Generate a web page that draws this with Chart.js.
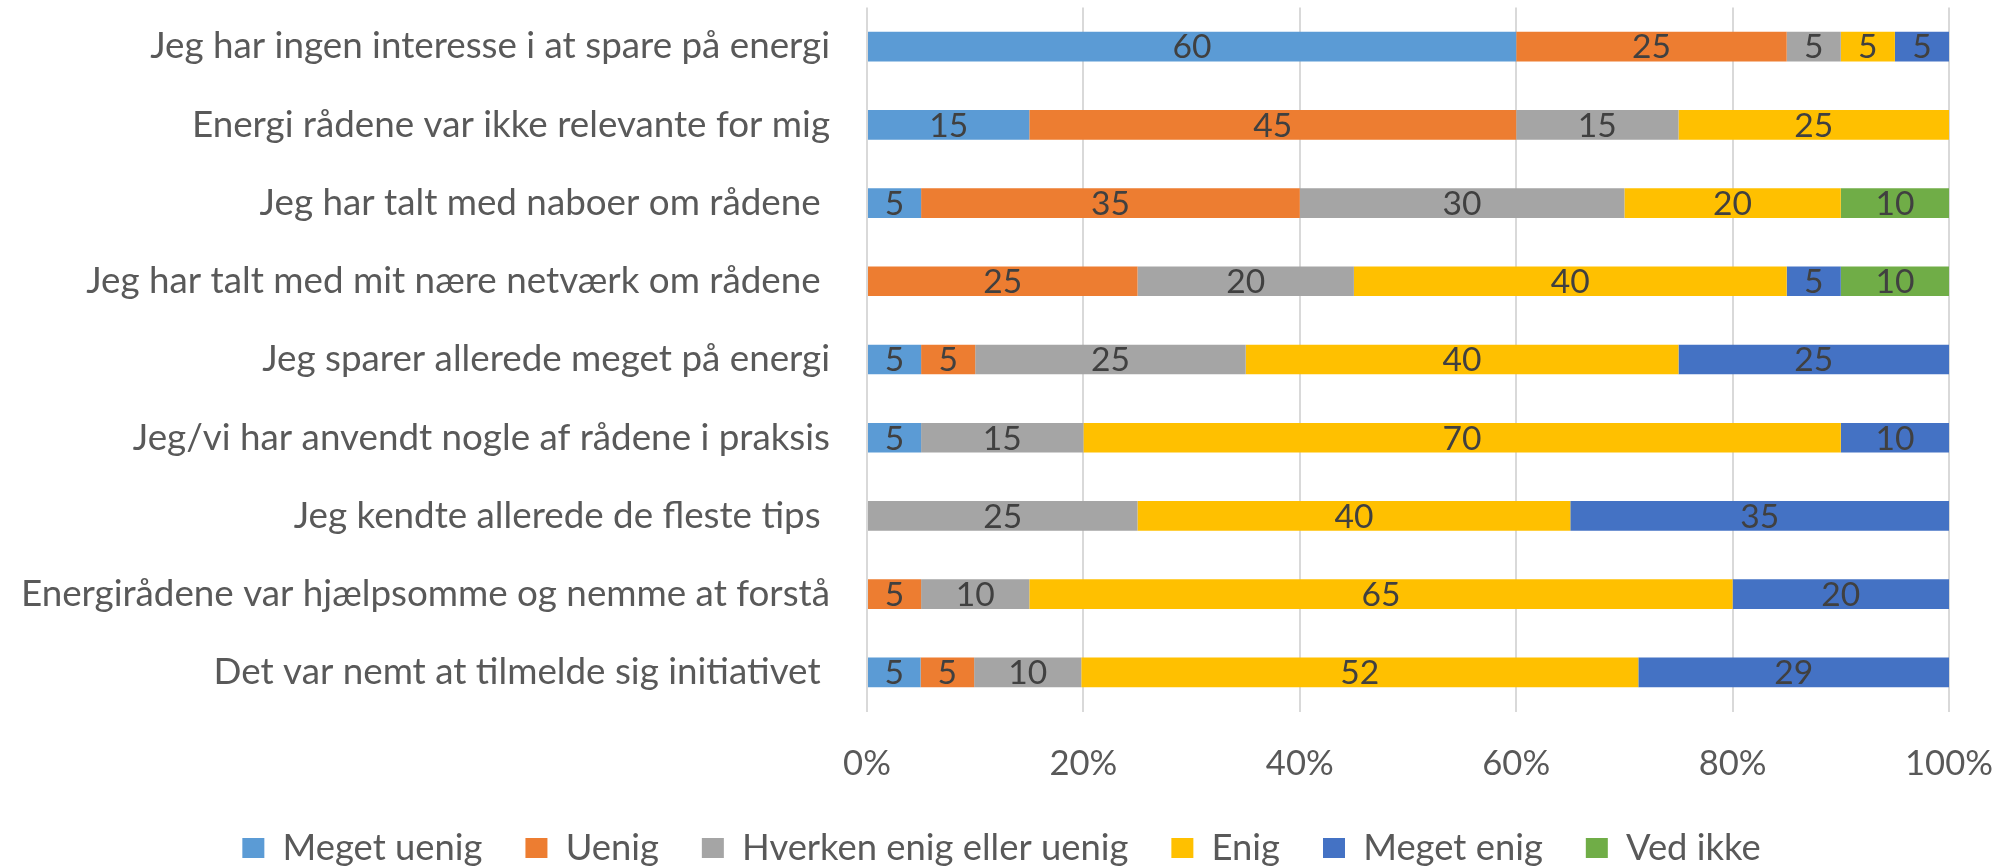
<!DOCTYPE html>
<html><head><meta charset="utf-8">
<script src="https://cdn.jsdelivr.net/npm/chart.js@4.4.1/dist/chart.umd.min.js"></script>
<style>html,body{margin:0;padding:0;background:#fff}#wrap{width:2003px;height:866px;position:relative}</style>
</head><body><div id="wrap"><canvas id="c"></canvas></div>
<script>
const categories = [
  'Jeg har ingen interesse i at spare på energi',
  'Energi rådene var ikke relevante for mig',
  'Jeg har talt med naboer om rådene ',
  'Jeg har talt med mit nære netværk om rådene ',
  'Jeg sparer allerede meget på energi',
  'Jeg/vi har anvendt nogle af rådene i praksis',
  'Jeg kendte allerede de fleste tips ',
  'Energirådene var hjælpsomme og nemme at forstå',
  'Det var nemt at tilmelde sig initiativet '
];
const seriesNames = ['Meget uenig', 'Uenig', 'Hverken enig eller uenig', 'Enig', 'Meget enig', 'Ved ikke'];
const megetUenig = [60, 15, 5, 0, 5, 5, 0, 0, 5];
const uenig      = [25, 45, 35, 25, 5, 0, 0, 5, 5];
const hverken    = [5, 15, 30, 20, 25, 15, 25, 10, 10];
const enig       = [5, 25, 20, 40, 40, 70, 40, 65, 52];
const megetEnig  = [5, 0, 0, 5, 25, 10, 35, 20, 29];
const vedIkke    = [0, 0, 10, 10, 0, 0, 0, 0, 0];
const xTickValues = [0, 20, 40, 60, 80, 100];

const seriesColors = ['#5B9BD5', '#ED7D31', '#A5A5A5', '#FFC000', '#4472C4', '#70AD47'];
const allSeries = [megetUenig, uenig, hverken, enig, megetEnig, vedIkke];
const rowTotals = categories.map((_, i) => allSeries.reduce((s, a) => s + a[i], 0));

const FAMILY = 'Lato, "Noto Sans", sans-serif';
const mctx = document.createElement('canvas').getContext('2d');
function fitSize(text, target) {
  mctx.font = '100px ' + FAMILY;
  return 100 * target / mctx.measureText(text).width;
}
const catF = fitSize(categories[0], 680);
const tickF = fitSize('100%', 88);
const legF = fitSize('Meget uenig', 200);
const valF = fitSize('52', 39);

const PLOT_LEFT = 867, PLOT_RIGHT_GAP = 2003 - 1949, PLOT_TOP = 7.4, PLOT_BOTTOM = 711.6;
const LEG_PAD = 43, LEG_BOX_H = 20, LEG_CENTER = 848;
const legItemH = Math.max(legF, LEG_BOX_H);
const legTop = LEG_CENTER - LEG_PAD - legItemH / 2;
const padBottom = 866 - LEG_CENTER - legItemH / 2 - 10;
const xAxisH = legTop - PLOT_BOTTOM;
const tickPad = 764 - PLOT_BOTTOM - tickF * 0.6;

const valueLabels = {
  id: 'valueLabels',
  afterDatasetsDraw(chart) {
    const ctx = chart.ctx;
    ctx.save();
    ctx.font = valF + 'px ' + FAMILY;
    ctx.fillStyle = '#404040';
    ctx.textAlign = 'center';
    ctx.textBaseline = 'middle';
    chart.data.datasets.forEach((ds, di) => {
      const meta = chart.getDatasetMeta(di);
      meta.data.forEach((bar, i) => {
        const raw = ds.rawValues[i];
        if (!raw) return;
        const p = bar.getProps(['x', 'y', 'base'], true);
        ctx.fillText(String(raw), (p.x + p.base) / 2, p.y + 1);
      });
    });
    ctx.restore();
  }
};

new Chart(document.getElementById('c'), {
  type: 'bar',
  data: {
    labels: categories,
    datasets: allSeries.map((arr, k) => ({
      label: seriesNames[k],
      data: arr.map((v, i) => v / rowTotals[i] * 100),
      rawValues: arr,
      backgroundColor: seriesColors[k],
      borderWidth: 0,
      barPercentage: 0.38,
      categoryPercentage: 1
    }))
  },
  options: {
    indexAxis: 'y',
    responsive: true,
    maintainAspectRatio: false,
    animation: false,
    layout: { padding: { top: PLOT_TOP, left: 0, right: 0, bottom: padBottom } },
    plugins: {
      tooltip: { enabled: false },
      legend: {
        position: 'bottom',
        align: 'center',
        labels: {
          boxWidth: 22,
          boxHeight: LEG_BOX_H,
          padding: LEG_PAD,
          color: '#595959',
          font: { family: FAMILY, size: legF }
        }
      }
    },
    scales: {
      x: {
        stacked: true,
        min: 0,
        max: 100,
        afterBuildTicks: (s) => { s.ticks = xTickValues.map(v => ({ value: v })); },
        afterFit: (s) => { s.height = xAxisH; s.paddingRight = PLOT_RIGHT_GAP; s.paddingLeft = 0; },
        grid: { color: '#d9d9d9', lineWidth: 2, drawTicks: false },
        border: { display: false },
        ticks: {
          padding: tickPad,
          color: '#595959',
          font: { family: FAMILY, size: tickF, lineHeight: 1.2 },
          callback: (v) => v + '%'
        }
      },
      y: {
        stacked: true,
        afterFit: (s) => { s.width = PLOT_LEFT; s.paddingTop = 0; s.paddingBottom = 0; },
        grid: { display: false, drawTicks: false },
        border: { display: false },
        ticks: {
          padding: 37,
          color: '#595959',
          autoSkip: false,
          font: { family: FAMILY, size: catF }
        }
      }
    }
  },
  plugins: [valueLabels]
});
</script>
</body></html>
